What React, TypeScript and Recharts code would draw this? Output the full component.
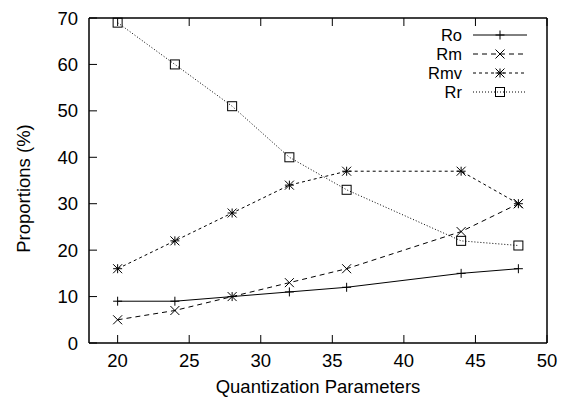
import React from 'react';
import { LineChart, Line, XAxis, YAxis } from 'recharts';

const qp = [20, 24, 28, 32, 36, 44, 48];
const ro = [9, 9, 10, 11, 12, 15, 16];
const rm = [5, 7, 10, 13, 16, 24, 30];
const rmv = [16, 22, 28, 34, 37, 37, 30];
const rr = [69, 60, 51, 40, 33, 22, 21];

const xTicks = [20, 25, 30, 35, 40, 45, 50];
const yTicks = [0, 10, 20, 30, 40, 50, 60, 70];

const data = qp.map((q, i) => ({ q, Ro: ro[i], Rm: rm[i], Rmv: rmv[i], Rr: rr[i] }));

const series = [
  { key: 'Ro', dash: undefined, shape: 'plus' },
  { key: 'Rm', dash: '5 4', shape: 'cross' },
  { key: 'Rmv', dash: '3 3', shape: 'star' },
  { key: 'Rr', dash: '1 2', shape: 'square' },
];

const FONT = 'Liberation Sans, Arial, sans-serif';
const FS = 18.5;
const TL = 8;

const Marker = ({ cx, cy, shape }: { cx: number; cy: number; shape: string }) => {
  const s = 4.5;
  const p = { stroke: '#000', strokeWidth: 1, fill: 'none' };
  if (shape === 'plus')
    return <path d={`M${cx - s},${cy}H${cx + s}M${cx},${cy - s}V${cy + s}`} {...p} />;
  if (shape === 'cross')
    return <path d={`M${cx - s},${cy - s}L${cx + s},${cy + s}M${cx - s},${cy + s}L${cx + s},${cy - s}`} {...p} />;
  if (shape === 'star')
    return (
      <path
        d={`M${cx - s},${cy}H${cx + s}M${cx},${cy - s}V${cy + s}M${cx - s},${cy - s}L${cx + s},${cy + s}M${cx - s},${cy + s}L${cx + s},${cy - s}`}
        {...p}
      />
    );
  return <rect x={cx - s} y={cy - s} width={2 * s} height={2 * s} {...p} />;
};

const LegendBox = () => (
  <svg width={150} height={90} style={{ position: 'absolute', left: 400, top: 26, overflow: 'visible' }}>
    {series.map((s, i) => {
      const y = 9 + i * 19;
      return (
        <g key={s.key}>
          <text x={62} y={y} textAnchor="end" dominantBaseline="central" fontSize={16.5} fontFamily={FONT} fill="#000">
            {s.key}
          </text>
          <line x1={73} x2={127} y1={y} y2={y} stroke="#000" strokeDasharray={s.dash} />
          <Marker cx={100} cy={y} shape={s.shape} />
        </g>
      );
    })}
  </svg>
);

const LeftTick = ({ x, y, payload }: any) => (
  <g>
    <line x1={x} x2={x + TL} y1={y} y2={y} stroke="#000" />
    <text x={x - 11} y={y} textAnchor="end" dominantBaseline="central" fontSize={FS} fontFamily={FONT} fill="#000">
      {payload.value}
    </text>
  </g>
);

const RightTick = ({ x, y }: any) => <line x1={x - TL} x2={x} y1={y} y2={y} stroke="#000" />;

const BottomTick = ({ x, y, payload }: any) => (
  <g>
    <line x1={x} x2={x} y1={y - TL} y2={y} stroke="#000" />
    <text x={x} y={y + 24} textAnchor="middle" fontSize={FS} fontFamily={FONT} fill="#000">
      {payload.value}
    </text>
  </g>
);

const TopTick = ({ x, y }: any) => <line x1={x} x2={x} y1={y} y2={y + TL} stroke="#000" />;

const YLabel = ({ viewBox }: any) => {
  const cy = viewBox.y + viewBox.height / 2 + 8;
  return (
    <text x={30} y={cy} transform={`rotate(-90 30 ${cy})`} textAnchor="middle" fontSize={FS} fontFamily={FONT} fill="#000">
      Proportions (%)
    </text>
  );
};

const XLabel = ({ viewBox }: any) => (
  <text x={viewBox.x + viewBox.width / 2} y={viewBox.y + 50} textAnchor="middle" fontSize={FS} fontFamily={FONT} fill="#000">
    Quantization Parameters
  </text>
);

export default function App() {
  return (
    <div style={{ width: 570, height: 398, background: '#fff', position: 'relative' }}>
      <style>{'body{margin:0}'}</style>
      <LineChart width={570} height={398} data={data} margin={{ top: 0, right: 0, bottom: 0, left: 0 }}>
        <XAxis
          xAxisId="b"
          dataKey="q"
          type="number"
          domain={[18, 50]}
          ticks={xTicks}
          height={55}
          stroke="#000"
          strokeWidth={1.5}
          tickSize={0}
          tickMargin={0}
          tickLine={false}
          tick={<BottomTick />}
          label={{ content: XLabel }}
        />
        <XAxis
          xAxisId="t"
          orientation="top"
          dataKey="q"
          type="number"
          domain={[18, 50]}
          ticks={xTicks}
          height={18}
          stroke="#000"
          strokeWidth={1.5}
          tickSize={0}
          tickMargin={0}
          tickLine={false}
          tick={<TopTick />}
        />
        <YAxis
          yAxisId="l"
          type="number"
          domain={[0, 70]}
          ticks={yTicks}
          width={89}
          stroke="#000"
          strokeWidth={1.5}
          tickSize={0}
          tickMargin={0}
          tickLine={false}
          tick={<LeftTick />}
          label={{ content: YLabel }}
        />
        <YAxis
          yAxisId="r"
          orientation="right"
          type="number"
          domain={[0, 70]}
          ticks={yTicks}
          width={23}
          stroke="#000"
          strokeWidth={1.5}
          tickSize={0}
          tickMargin={0}
          tickLine={false}
          tick={<RightTick />}
        />
        {series.map((s) => (
          <Line
            key={s.key}
            xAxisId="b"
            yAxisId="l"
            dataKey={s.key}
            type="linear"
            stroke="#000"
            strokeWidth={1}
            strokeDasharray={s.dash}
            dot={(props: any) => <Marker key={`${s.key}-${props.index}`} cx={props.cx} cy={props.cy} shape={s.shape} />}
            activeDot={false}
            isAnimationActive={false}
          />
        ))}
      </LineChart>
      <LegendBox />
    </div>
  );
}
